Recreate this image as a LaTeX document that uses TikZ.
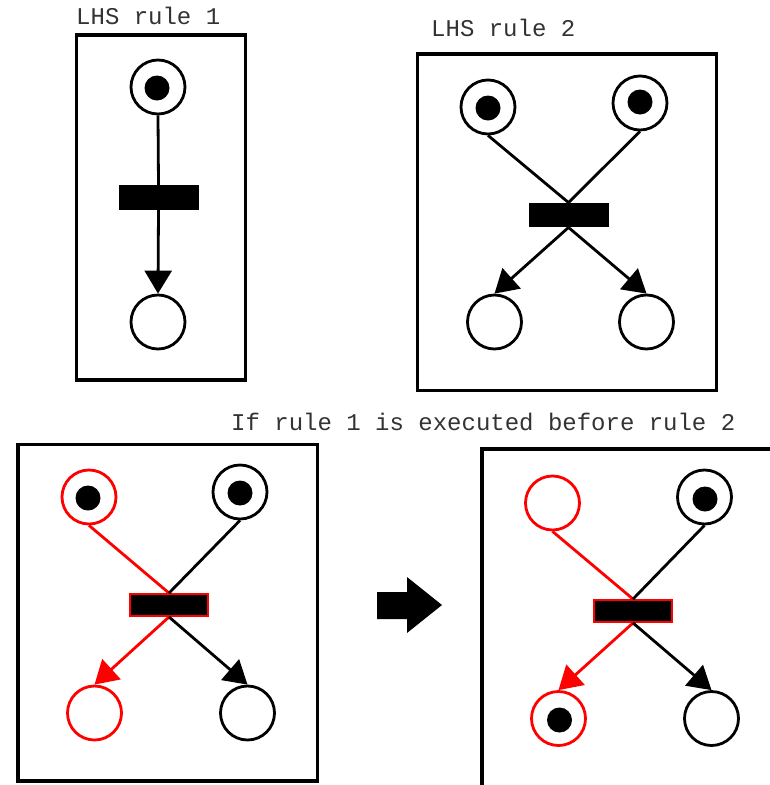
\documentclass[tikz,border=0pt]{standalone}
\usepackage{fontspec}
\setmonofont{Liberation Mono}
\usetikzlibrary{arrows.meta}
\begin{document}
\begin{tikzpicture}[x=1pt,y=-1pt,
  place/.style={circle,draw,line width=2.8pt,minimum size=54pt,inner sep=0pt},
  redplace/.style={place,draw=red},
  token/.style={circle,fill=black,inner sep=0pt,minimum size=25pt},
  trans/.style={rectangle,fill=black,inner sep=0pt,minimum width=80pt,minimum height=24.5pt},
  redtrans/.style={trans,draw=red,line width=2.4pt,minimum width=77.5pt,minimum height=21.5pt},
  frame/.style={draw,line width=3.2pt},
  arc/.style={line width=2.8pt},
  arr/.style={arc,-{Triangle[length=23pt,width=27pt]}},
  redarc/.style={arc,red},
  redarr/.style={arr,red},
  caption/.style={font=\ttfamily\fontsize{24}{24}\selectfont,text=black!80,anchor=base west,inner sep=0pt}
]
\clip (0,0) rectangle (770,785);
\fill[white] (0,0) rectangle (770,785);

% ---------- LHS rule 1 ----------
\node[caption] (cap1) at (76,24) {LHS rule 1};
\draw[frame] (76.5,35) rectangle (245.5,380);
\node[place] (r1p1) at (158,87) {};
\node[token] (r1k1) at (157,88) {};
\node[trans] (r1t) at (158.5,197.5) {};
\node[place] (r1p2) at (158,322) {};
\draw[arc] (r1p1.south) -- (r1t.north);
\draw[arr] (r1t.south) -- (r1p2.north);

% ---------- LHS rule 2 ----------
\node[caption] (cap2) at (431,36) {LHS rule 2};
\draw[frame] (417.5,54) rectangle (716.5,390.5);
\node[place] (r2p1) at (488,107) {};
\node[token] (r2k1) at (488,108) {};
\node[place] (r2p2) at (640,103) {};
\node[token] (r2k2) at (640,102) {};
\node[trans] (r2t) at (568.5,215) {};
\node[place] (r2p3) at (494.5,322) {};
\node[place] (r2p4) at (646.5,322) {};
\draw[arc] (r2p1.south) -- (r2t.north);
\draw[arc] (r2p2.south) -- (r2t.north);
\draw[arr] (r2t.south) -- (r2p3.north);
\draw[arr] (r2t.south) -- (r2p4.north);

% ---------- caption of the execution ----------
\node[caption] (cap3) at (231,430) {If rule 1 is executed before rule 2};

% ---------- state before firing ----------
\draw[frame] (18,444.5) rectangle (317.5,781);
\node[redplace] (ap1) at (89,497) {};
\node[token] (ak1) at (88,498) {};
\node[place] (ap2) at (240,492) {};
\node[token] (ak2) at (240,493) {};
\node[redtrans] (at) at (169,605) {};
\node[redplace] (ap3) at (94.5,713) {};
\node[place] (ap4) at (247.5,713) {};
\draw[redarc] (ap1.south) -- (at.north);
\draw[arc] (ap2.south) -- (at.north);
\draw[redarr] (at.south) -- (ap3.north);
\draw[arr] (at.south) -- (ap4.north);

% ---------- block arrow ----------
\fill[black] (377,592) -- (407,592) -- (407,577) -- (442,605)
  -- (407,633) -- (407,619) -- (377,619) -- cycle;

% ---------- state after firing ----------
\draw[line width=3.2pt] (482,800) -- (482,449) -- (800,449);
\node[redplace] (bp1) at (552.5,503) {};
\node[place] (bp2) at (704.5,497) {};
\node[token] (bk2) at (705,499) {};
\node[redtrans] (bt) at (633,611) {};
\node[redplace] (bp3) at (558.5,718.5) {};
\node[token] (bk3) at (559.5,720) {};
\node[place] (bp4) at (711.5,718.5) {};
\draw[redarc] (bp1.south) -- (bt.north);
\draw[arc] (bp2.south) -- (bt.north);
\draw[redarr] (bt.south) -- (bp3.north);
\draw[arr] (bt.south) -- (bp4.north);
\end{tikzpicture}
\end{document}
